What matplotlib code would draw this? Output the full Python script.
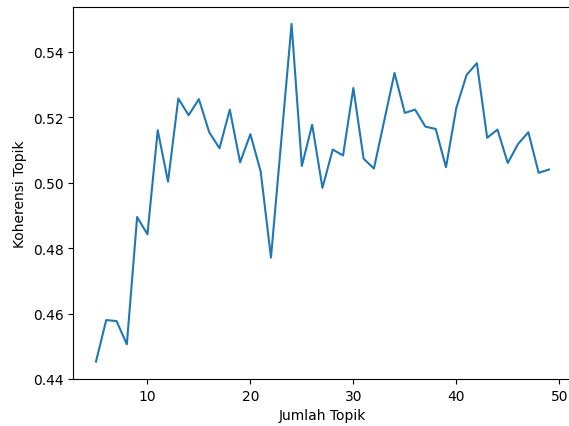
import matplotlib.pyplot as plt

# Jumlah topik vs skor koherensi
jumlah_topik = list(range(5, 50))
koherensi = [
    0.4453, 0.4580, 0.4577, 0.4506, 0.4895, 0.4842, 0.5160, 0.5003, 0.5257, 0.5206,
    0.5255, 0.5154, 0.5105, 0.5223, 0.5062, 0.5148, 0.5034, 0.4771, 0.5128, 0.5485,
    0.5051, 0.5177, 0.4984, 0.5101, 0.5083, 0.5289, 0.5073, 0.5043, 0.5189, 0.5335,
    0.5213, 0.5223, 0.5171, 0.5164, 0.5047, 0.5228, 0.5329, 0.5365, 0.5137, 0.5162,
    0.5060, 0.5118, 0.5154, 0.5030, 0.5040,
]

fig = plt.figure(figsize=(5.69, 4.27), dpi=100)
# gambar asli terpotong di kanan, jadi sumbu melewati tepi kanan
ax = fig.add_axes([73.3 / 569, 47 / 427, 498.3 / 569, 372 / 427])

ax.plot(jumlah_topik, koherensi)
ax.set_xlabel("Jumlah Topik")
ax.set_ylabel("Koherensi Topik")
ax.set_xticks([10, 20, 30, 40, 50])
ax.set_yticks([0.44, 0.46, 0.48, 0.50, 0.52, 0.54])
ax.spines['right'].set_visible(False)

fig.savefig("out.png", dpi=100)
